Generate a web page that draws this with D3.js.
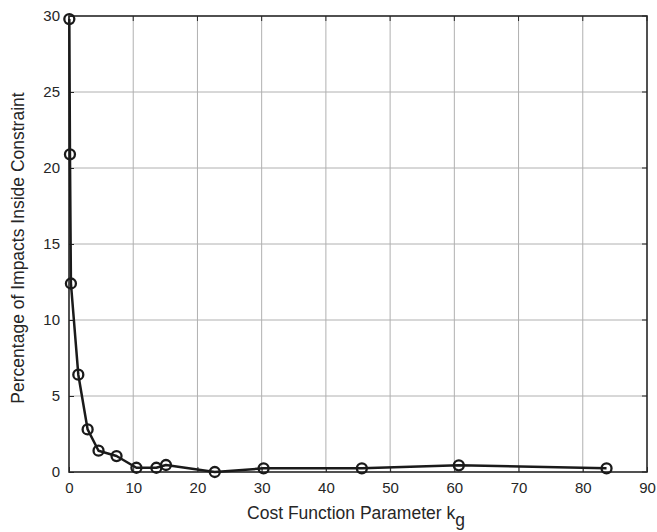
<!DOCTYPE html>
<html><head><meta charset="utf-8">
<script src="https://cdn.jsdelivr.net/npm/d3@7"></script>
<style>body{margin:0;background:#fff;} svg{display:block;} text{font-family:"Liberation Sans",Arial,Helvetica,sans-serif;}</style>
</head><body>
<svg id="c" width="657" height="532"></svg>
<script>
const kg = [0.05, 0.15, 0.3, 1.45, 2.9, 4.6, 7.4, 10.5, 13.6, 15.1, 22.7, 30.3, 45.6, 60.7, 83.7];
const pct = [29.8, 20.9, 12.4, 6.4, 2.8, 1.4, 1.05, 0.28, 0.28, 0.46, 0.0, 0.24, 0.24, 0.44, 0.24];
const xTicks = [0, 10, 20, 30, 40, 50, 60, 70, 80, 90];
const yTicks = [0, 5, 10, 15, 20, 25, 30];
const xLabel = "Cost Function Parameter k";
const xLabelSub = "g";
const yLabel = "Percentage of Impacts Inside Constraint";

const m = {l: 69, r: 647, t: 16, b: 472};
const svg = d3.select("#c");
const x = d3.scaleLinear().domain([0, 90]).range([m.l, m.r]);
const y = d3.scaleLinear().domain([0, 30]).range([m.b, m.t]);

// grid
svg.append("g").selectAll("line").data(xTicks.slice(1, -1)).join("line")
  .attr("x1", d => x(d)).attr("x2", d => x(d)).attr("y1", m.t).attr("y2", m.b)
  .attr("stroke", "#b0b0b0").attr("stroke-width", 1);
svg.append("g").selectAll("line").data(yTicks.slice(1, -1)).join("line")
  .attr("y1", d => y(d)).attr("y2", d => y(d)).attr("x1", m.l).attr("x2", m.r)
  .attr("stroke", "#b0b0b0").attr("stroke-width", 1);

// axes
const fmt = d3.format("d");
const xa = svg.append("g").attr("transform", `translate(0,${m.b})`)
  .call(d3.axisBottom(x).tickValues(xTicks).tickFormat(fmt).tickSizeInner(-5).tickSizeOuter(0).tickPadding(10));
const ya = svg.append("g").attr("transform", `translate(${m.l},0)`)
  .call(d3.axisLeft(y).tickValues(yTicks).tickFormat(fmt).tickSizeInner(-5).tickSizeOuter(0).tickPadding(9));
[xa, ya].forEach(a => {
  a.select(".domain").remove();
  a.selectAll(".tick line").attr("stroke", "#262626");
  a.selectAll("text").attr("font-size", 15).attr("fill", "#262626")
   .attr("font-family", '"Liberation Sans",Arial,sans-serif');
});
// top/right ticks
svg.append("g").selectAll("line").data(xTicks).join("line")
  .attr("x1", d => x(d)).attr("x2", d => x(d)).attr("y1", m.t).attr("y2", m.t + 5).attr("stroke", "#262626");
svg.append("g").selectAll("line").data(yTicks).join("line")
  .attr("y1", d => y(d)).attr("y2", d => y(d)).attr("x1", m.r).attr("x2", m.r - 5).attr("stroke", "#262626");

// box
svg.append("rect").attr("x", m.l).attr("y", m.t).attr("width", m.r - m.l).attr("height", m.b - m.t)
  .attr("fill", "none").attr("stroke", "#262626").attr("stroke-width", 1.6);

// data line
const pts = kg.map((v, i) => [v, pct[i]]);
svg.append("path").datum(pts)
  .attr("d", d3.line().x(d => x(d[0])).y(d => y(d[1])))
  .attr("fill", "none").attr("stroke", "#1a1a1a").attr("stroke-width", 2.5).attr("stroke-linejoin", "round");
svg.append("g").selectAll("circle").data(pts).join("circle")
  .attr("cx", d => x(d[0])).attr("cy", d => y(d[1])).attr("r", 5)
  .attr("fill", "none").attr("stroke", "#1a1a1a").attr("stroke-width", 2.3);

// labels
const xl = svg.append("text").attr("x", (m.l + m.r) / 2 - 2).attr("y", 519)
  .attr("text-anchor", "middle").attr("font-size", 17.5).attr("fill", "#262626");
xl.append("tspan").text(xLabel);
xl.append("tspan").attr("dy", 7).text(xLabelSub);

svg.append("text").attr("transform", `translate(24,${(m.t + m.b) / 2 + 4}) rotate(-90)`)
  .attr("text-anchor", "middle").attr("font-size", 17.5).attr("fill", "#262626").text(yLabel);
</script>
</body></html>
